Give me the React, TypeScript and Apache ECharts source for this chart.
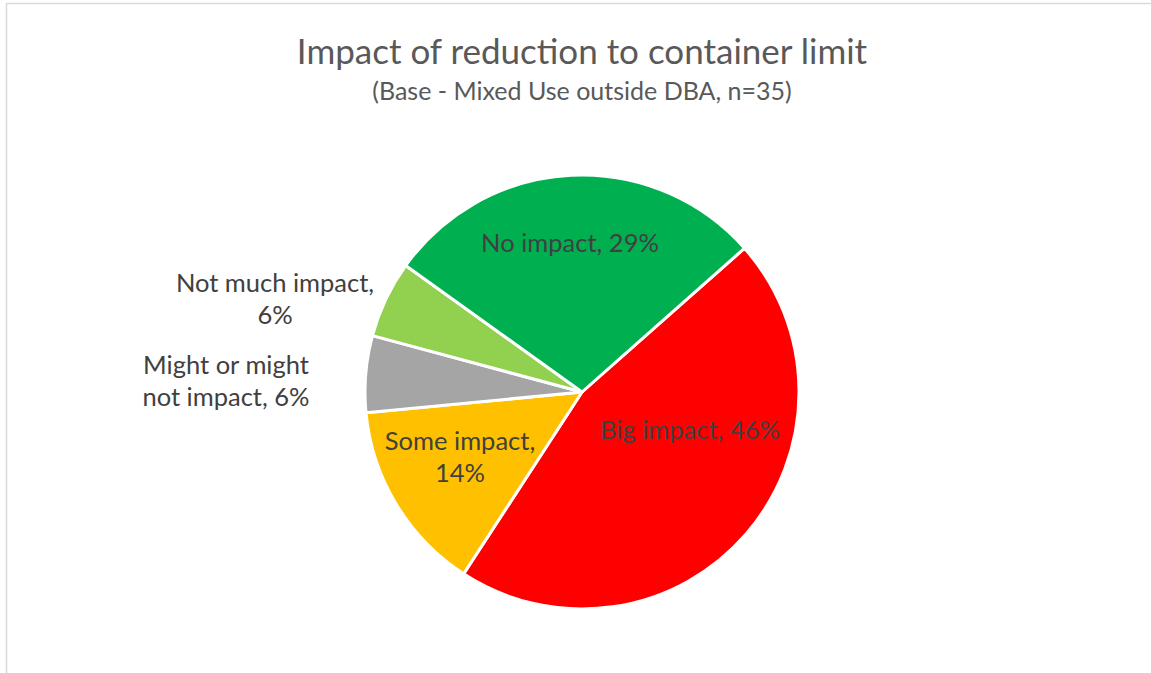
import React, { useEffect, useRef } from "react";
import * as echarts from "echarts";

const categories = ["Big impact", "Some impact", "Might or might not impact", "Not much impact", "No impact"];
const counts = [16, 5, 2, 2, 10];
const labelTexts = ["Big impact, 46%", "Some impact,\n14%", "Might or might\nnot impact, 6%", "Not much impact,\n6%", "No impact, 29%"];
const colors = ["#FF0000", "#FFC000", "#A5A5A5", "#92D050", "#00B050"];
const titleText = "Impact of reduction to container limit";
const subtitleText = "(Base - Mixed Use outside DBA, n=35)";

const labelPos: { x: number; y: number }[] = [
  { x: 690, y: 429 },
  { x: 460, y: 456 },
  { x: 226, y: 380 },
  { x: 275, y: 298 },
  { x: 570, y: 242 },
];

const FONT = "Lato, 'Open Sans', sans-serif";

export default function App() {
  const ref = useRef<HTMLDivElement>(null);
  useEffect(() => {
    if (!ref.current) return;
    const chart = echarts.init(ref.current, undefined, { renderer: "svg" });
    chart.setOption({
      animation: false,
      backgroundColor: "#ffffff",
      graphic: [
        {
          type: "rect",
          shape: { x: 6.5, y: 3.5, width: 1200, height: 720 },
          style: { fill: "none", stroke: "#D9D9D9", lineWidth: 1.5 },
          silent: true,
        },
        {
          type: "text",
          x: 582,
          y: 50,
          style: {
            text: titleText,
            font: `35px ${FONT}`,
            fill: "#595959",
            align: "center",
            verticalAlign: "middle",
          },
        },
        {
          type: "text",
          x: 582,
          y: 90,
          style: {
            text: subtitleText,
            font: `25px ${FONT}`,
            fill: "#595959",
            align: "center",
            verticalAlign: "middle",
          },
        },
      ],
      series: [
        {
          type: "pie",
          center: [582, 392],
          radius: [0, 217],
          startAngle: 41.5,
          clockwise: true,
          avoidLabelOverlap: false,
          itemStyle: { borderColor: "#ffffff", borderWidth: 3 },
          label: {
            show: true,
            position: "inside",
            color: "#404040",
            fontFamily: FONT,
            fontSize: 25.5,
            lineHeight: 32,
            align: "center",
            formatter: (p: any) => labelTexts[p.dataIndex],
          },
          labelLine: { show: false },
          labelLayout: (p: any) => {
            const lp = labelPos[p.dataIndex];
            return { x: lp.x, y: lp.y, align: "center", verticalAlign: "middle" };
          },
          data: categories.map((c, i) => ({
            name: c,
            value: counts[i],
            itemStyle: { color: colors[i] },
          })),
        },
      ],
    });
    return () => chart.dispose();
  }, []);
  return <div ref={ref} style={{ position: "fixed", left: 0, top: 0, width: 1151, height: 673 }} />;
}
